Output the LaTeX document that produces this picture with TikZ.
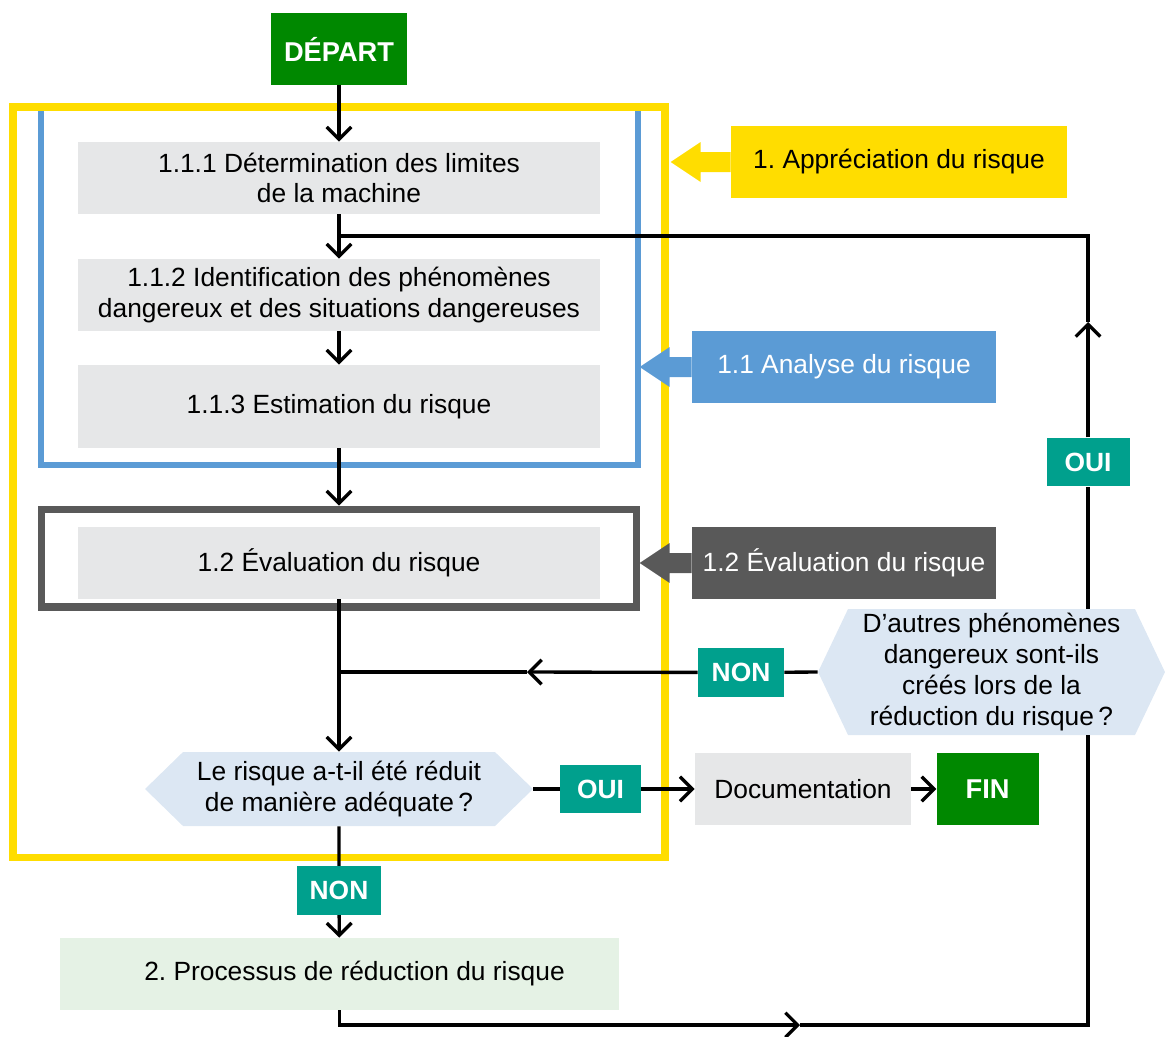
\documentclass[tikz,border=0pt]{standalone}
\usepackage{fontspec}
\setmainfont{Liberation Sans}
\usetikzlibrary{positioning}
\usetikzlibrary{calc}
\usetikzlibrary{arrows.meta}
\definecolor{depgreen}{RGB}{0,136,0}
\definecolor{tealc}{RGB}{0,160,141}
\definecolor{yel}{RGB}{255,221,0}
\definecolor{blu}{RGB}{91,155,213}
\definecolor{dgr}{RGB}{89,89,89}
\definecolor{boxgray}{RGB}{230,231,232}
\definecolor{qblue}{RGB}{220,231,243}
\definecolor{lgreen}{RGB}{229,242,229}
\frenchspacing

\begin{document}
\begin{tikzpicture}[x=0.02cm, y=-0.02cm,
  every node/.style={font=\fontsize{15}{17.5}\selectfont, align=center, inner sep=0pt},
  box/.style={fill=boxgray, minimum width=10.44cm, minimum height=1.44cm},
  term/.style={fill=depgreen, text=white, font=\fontsize{15.5}{17.5}\selectfont\bfseries, minimum height=1.44cm},
  tag/.style={fill=tealc, text=white, font=\fontsize{15}{17.5}\selectfont\bfseries, minimum height=0.97cm},
  sidelab/.style={fill=#1, minimum width=6.08cm, minimum height=1.44cm},
  hexa/.style={path picture={\fill[qblue] (path picture bounding box.west)
      -- ([xshift=#1]path picture bounding box.north west)
      -- ([xshift=-#1]path picture bounding box.north east)
      -- (path picture bounding box.east)
      -- ([xshift=-#1]path picture bounding box.south east)
      -- ([xshift=#1]path picture bounding box.south west) -- cycle;}},
  conn/.style={line width=1.9pt},
  >={Straight Barb[length=7pt,width=14pt]}]
  \useasboundingbox (0,0) rectangle (1166,1036);

  % frames
  \draw[blu, line width=3.4pt] (41,111) -- (41,465) -- (638,465) -- (638,111);
  \draw[yel, line width=4pt] (13,107) rectangle (665,857);
  \node[draw=dgr, line width=4pt, minimum width=11.92cm, minimum height=1.96cm] (efr) at (339,558) {};

  % side labels
  \node[sidelab=yel, minimum width=6.72cm] (lab1) at (899,162) {1. Appréciation du risque};
  \node[sidelab=blu, text=white] (lab11) at (844,367) {1.1 Analyse du risque};
  \node[sidelab=dgr, text=white] (lab12) at (844,563) {1.2 Évaluation du risque};
  \foreach \n/\c/\l in {lab1/yel/60, lab11/blu/52, lab12/dgr/52}
    \fill[\c] (\n.west) ++(0,-10) -- ++({30-\l},0) -- ++(0,-10) -- ++(-30,20)
      -- ++(30,20) -- ++(0,-10) -- ++({\l-30},0) -- cycle;

  % steps
  \node[term, minimum width=2.72cm] (dep) at (339,49) {DÉPART};
  \node[box] (b111) at (339,178) {1.1.1 Détermination des limites\\de la machine};
  \node[box] (b112) at (339,295) {1.1.2 Identification des phénomènes\\dangereux et des situations dangereuses};
  \node[box, minimum height=1.66cm] (b113) at (339,406.5) {1.1.3 Estimation du risque};
  \node[box] (b12) at (339,563) {1.2 Évaluation du risque};
  \node[hexa=0.76cm, minimum width=7.76cm, minimum height=1.48cm] (q1) at (339,789)
    {Le risque a-t-il été réduit\\de manière adéquate\,?};
  \node[tag, minimum width=1.62cm] (oui1) at (600.5,789) {OUI};
  \node[fill=boxgray, minimum width=4.32cm, minimum height=1.44cm] (doc) at (803,789) {Documentation};
  \node[term, minimum width=2.04cm, right=0.5cm of doc] (fin) {FIN};
  \node[tag, minimum width=1.7cm] (non1) at (339,890.5) {NON};
  \node[fill=lgreen, minimum width=11.18cm, minimum height=1.44cm] (b2) at (339.5,974)
    {\hspace*{0.6cm}2. Processus de réduction du risque};
  \node[hexa=0.6cm, minimum width=6.94cm, minimum height=2.52cm] (q2) at (991.5,672)
    {D’autres phénomènes\\dangereux sont-ils\\créés lors de la\\réduction du risque\,?};
  \node[tag, minimum width=1.72cm] (non2) at (741,672.5) {NON};
  \node[tag, minimum width=1.66cm] (oui2) at (1088,462) {OUI};

  \coordinate (j1) at (339,236);
  \coordinate (j2) at (339,672);
  \coordinate (m1) at (527,672);
  \coordinate (m2) at (1088,322);
  \coordinate (m3) at (800,1025);

  % connectors
  \draw[conn, ->] (dep) -- (b111);
  \draw[conn, ->] (b111) -- (b112);
  \draw[conn, ->] (b112) -- (b113);
  \draw[conn, ->] (b113) -- (efr.north);
  \draw[conn, ->] (b12) -- (q1);
  \draw[conn, ->] (q1.east) -- (oui1) -- (doc);
  \draw[conn, ->] (doc) -- (fin);
  \draw[conn, ->] (q1.south) -- (non1) -- (b2);
  \draw[conn, ->] (b2.south) |- (m3);
  \draw[conn] (m3) -| (q2.south -| m2);
  \draw[conn, ->] (q2.north -| m2) -- (oui2) -- (m2);
  \draw[conn] (m2) |- (j1);
  \draw[conn, ->] (q2.west) -- (non2) -- (m1);
  \draw[conn] (m1) -- (j2);
\end{tikzpicture}
\end{document}
